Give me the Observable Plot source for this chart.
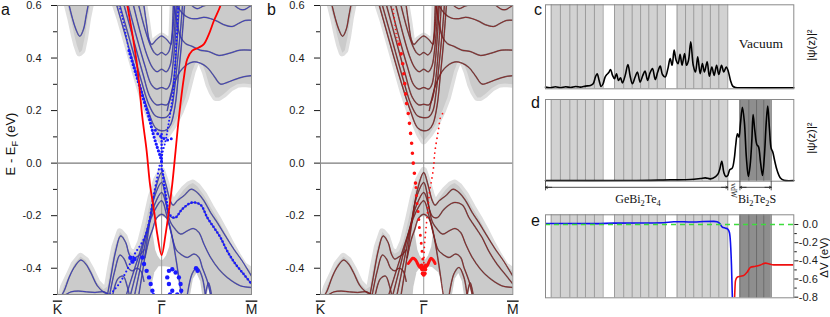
<!DOCTYPE html>
<html>
<head>
<meta charset="utf-8">
<script src="https://cdn.jsdelivr.net/npm/d3@7"></script>
<script src="https://cdn.jsdelivr.net/npm/@observablehq/plot@0.6"></script>
<style>
  html, body { margin: 0; padding: 0; background: #fff; }
  #fig { position: relative; width: 830px; height: 317px; overflow: hidden; background: #fff; }
  #fig svg { position: absolute; }
</style>
</head>
<body>
<div id="fig"></div>
<script>
// ================= DATA =================
// ---- panels a, b : k along K̄–Γ̄–M̄ (Γ̄ = 0), energy E - E_F (eV)
const kTicks = [-1, 0, 0.863];
const kLabels = ["K", "Γ", "M"];
const eMajor = [-0.4, -0.2, 0, 0.2, 0.4, 0.6];
const eMinor = [-0.5, -0.3, -0.1, 0.1, 0.3, 0.5];

// projected bulk bands (grey regions), polygons of [k, E]
const bulkCondK = [[-0.904,0.66],[-0.904,0.6],[-0.872,0.55],[-0.84,0.49],[-0.815,0.45],[-0.789,0.42],[-0.764,0.43],[-0.738,0.48],[-0.712,0.55],[-0.687,0.6],[-0.687,0.66]];
const bulkCond = [[-0.47,0.66],[-0.441,0.6],[-0.393,0.542],[-0.329,0.453],[-0.265,0.364],[-0.201,0.275],[-0.137,0.2],[-0.073,0.142],[-0.04,0.11],[0,0.085],[0.054,0.11],[0.118,0.148],[0.182,0.2],[0.23,0.25],[0.262,0.3],[0.294,0.35],[0.326,0.383],[0.358,0.392],[0.39,0.377],[0.422,0.345],[0.454,0.3],[0.486,0.27],[0.518,0.25],[0.55,0.25],[0.597,0.263],[0.661,0.286],[0.725,0.3],[0.789,0.303],[0.863,0.3],[0.95,0.3],[0.95,0.66],[0.115,0.66],[0.11,0.6],[0.1,0.49],[0.09,0.45],[0.05,0.47],[0,0.484],[-0.05,0.47],[-0.095,0.45],[-0.12,0.47],[-0.145,0.54],[-0.17,0.6],[-0.175,0.66]];
const bulkVal = [[-0.975,-0.56],[-0.965,-0.503],[-0.94,-0.47],[-0.88,-0.42],[-0.84,-0.385],[-0.78,-0.355],[-0.73,-0.37],[-0.68,-0.405],[-0.62,-0.455],[-0.56,-0.48],[-0.52,-0.47],[-0.49,-0.4],[-0.45,-0.32],[-0.4,-0.262],[-0.36,-0.28],[-0.32,-0.33],[-0.28,-0.345],[-0.24,-0.335],[-0.2,-0.3],[-0.15,-0.22],[-0.1,-0.13],[-0.05,-0.065],[0,-0.028],[0.038,-0.074],[0.07,-0.118],[0.1,-0.15],[0.118,-0.155],[0.166,-0.125],[0.214,-0.1],[0.262,-0.082],[0.3,-0.076],[0.342,-0.088],[0.406,-0.122],[0.47,-0.168],[0.534,-0.21],[0.597,-0.255],[0.661,-0.305],[0.725,-0.35],[0.789,-0.39],[0.863,-0.41],[0.95,-0.41],[0.95,-0.56]];
const bulkRegions = [bulkCondK, bulkCond, bulkVal];

// gaps inside the projected valence bands
const gapTear = [[0,-0.2],[0.04,-0.21],[0.07,-0.228],[0.088,-0.27],[0.072,-0.318],[0.042,-0.352],[0.012,-0.368],[-0.012,-0.368],[-0.04,-0.352],[-0.062,-0.33],[-0.086,-0.27],[-0.072,-0.225],[-0.04,-0.208]];
const gapLow = [[-0.12,-0.56],[-0.1,-0.47],[-0.07,-0.415],[-0.03,-0.392],[0.03,-0.392],[0.08,-0.395],[0.14,-0.415],[0.18,-0.455],[0.2,-0.503],[0.205,-0.56]];
const gapR1 = [[0.27,-0.56],[0.272,-0.503],[0.3,-0.44],[0.335,-0.418],[0.37,-0.45],[0.39,-0.503],[0.392,-0.56]];
const gapR2 = [[0.43,-0.56],[0.432,-0.503],[0.45,-0.468],[0.468,-0.503],[0.47,-0.56]];
const gapRegions = [gapTear, gapLow, gapR1, gapR2];

// slab sub-bands [k, E]
const bandKU = [[-0.888,0.6],[-0.856,0.55],[-0.824,0.51],[-0.786,0.483],[-0.75,0.51],[-0.725,0.56],[-0.706,0.6]];
const bandCR0 = [[0.7,0.6],[0.757,0.585],[0.8,0.585],[0.84,0.595],[0.863,0.6]];
const bandCR0b = [[0.29,0.6],[0.34,0.588],[0.4,0.598],[0.42,0.6]];
const bandCR1 = [[0.15,0.6],[0.2,0.57],[0.27,0.552],[0.34,0.55],[0.406,0.555],[0.47,0.55],[0.534,0.54],[0.597,0.527],[0.677,0.52],[0.74,0.532],[0.8,0.543],[0.863,0.544]];
const bandCR2 = [[0.118,0.6],[0.15,0.53],[0.182,0.48],[0.23,0.455],[0.29,0.445],[0.37,0.43],[0.45,0.425],[0.55,0.41],[0.65,0.418],[0.75,0.43],[0.863,0.43]];
const bandCR3 = [[0.054,0.2],[0.118,0.3],[0.2,0.36],[0.3,0.385],[0.374,0.38],[0.438,0.364],[0.502,0.332],[0.565,0.301],[0.629,0.307],[0.693,0.317],[0.789,0.329],[0.863,0.333]];
const bandS1 = [[-0.17,0.6],[-0.145,0.53],[-0.12,0.47],[-0.095,0.452],[-0.05,0.47],[0,0.484],[0.05,0.47],[0.09,0.452],[0.1,0.48],[0.105,0.53],[0.112,0.6]];
const bandS2 = [[-0.22,0.6],[-0.16,0.51],[-0.11,0.45],[-0.07,0.42],[-0.04,0.412],[0,0.421],[0.04,0.412],[0.07,0.425],[0.095,0.47],[0.115,0.54],[0.125,0.6]];
const bandS3 = [[-0.27,0.6],[-0.2,0.49],[-0.14,0.41],[-0.09,0.365],[-0.045,0.348],[0,0.357],[0.045,0.348],[0.08,0.37],[0.105,0.43],[0.125,0.52],[0.14,0.6]];
const bandS4 = [[-0.32,0.6],[-0.24,0.48],[-0.16,0.37],[-0.1,0.3],[-0.05,0.282],[0,0.288],[0.05,0.282],[0.08,0.3],[0.11,0.38],[0.135,0.5],[0.15,0.6]];
const bandS5 = [[-0.36,0.6],[-0.27,0.47],[-0.18,0.34],[-0.11,0.25],[-0.05,0.222],[0,0.224],[0.05,0.222],[0.08,0.24],[0.11,0.3],[0.14,0.42],[0.17,0.6]];
const bandS6 = [[-0.4,0.6],[-0.3,0.46],[-0.2,0.32],[-0.12,0.22],[-0.06,0.18],[0,0.173],[0.05,0.176],[0.09,0.2],[0.12,0.27],[0.15,0.38],[0.18,0.5],[0.2,0.6]];
const bandS7 = [[-0.43,0.6],[-0.33,0.46],[-0.22,0.31],[-0.13,0.2],[-0.06,0.135],[0,0.123],[0.05,0.128],[0.09,0.15],[0.13,0.22],[0.16,0.33],[0.19,0.45],[0.22,0.6]];
const bandL1 = [[-0.22,-0.503],[-0.17,-0.38],[-0.12,-0.24],[-0.06,-0.1],[0,-0.036],[0.04,-0.08],[0.08,-0.14],[0.11,-0.16],[0.15,-0.143],[0.214,-0.124],[0.284,-0.099],[0.342,-0.112],[0.406,-0.143],[0.47,-0.188],[0.534,-0.226],[0.613,-0.277],[0.693,-0.327],[0.773,-0.372],[0.863,-0.43]];
const bandL2 = [[-0.26,-0.503],[-0.19,-0.37],[-0.13,-0.25],[-0.07,-0.13],[0,-0.074],[0.03,-0.11],[0.054,-0.175],[0.09,-0.205],[0.134,-0.207],[0.198,-0.175],[0.294,-0.15],[0.374,-0.159],[0.438,-0.207],[0.502,-0.245],[0.565,-0.283],[0.629,-0.334],[0.709,-0.384],[0.789,-0.423],[0.863,-0.46]];
const bandL3 = [[-0.3,-0.503],[-0.22,-0.38],[-0.15,-0.27],[-0.07,-0.16],[0,-0.112],[0.04,-0.15],[0.08,-0.22],[0.118,-0.245],[0.182,-0.27],[0.246,-0.258],[0.304,-0.249],[0.358,-0.264],[0.406,-0.308],[0.47,-0.359],[0.55,-0.404],[0.629,-0.435],[0.757,-0.467],[0.863,-0.473]];
const bandL4 = [[-0.34,-0.503],[-0.25,-0.39],[-0.16,-0.28],[-0.08,-0.19],[0,-0.143],[0.05,-0.2],[0.1,-0.28],[0.14,-0.33],[0.182,-0.346],[0.246,-0.359],[0.31,-0.346],[0.358,-0.359],[0.39,-0.397],[0.438,-0.448],[0.47,-0.503]];
const bandL5 = [[-0.16,-0.36],[-0.12,-0.29],[-0.085,-0.25],[-0.05,-0.21],[0,-0.195],[0.05,-0.21],[0.085,-0.25],[0.11,-0.3],[0.14,-0.37],[0.17,-0.45],[0.19,-0.503]];
const bandVL0 = [[-0.93,-0.503],[-0.87,-0.49],[-0.8,-0.487],[-0.72,-0.49],[-0.64,-0.492],[-0.55,-0.49],[-0.5,-0.503]];
const bandVL1 = [[-0.96,-0.503],[-0.936,-0.486],[-0.888,-0.435],[-0.84,-0.397],[-0.776,-0.369],[-0.728,-0.384],[-0.681,-0.416],[-0.617,-0.467],[-0.553,-0.492],[-0.489,-0.503]];
const bandVL2 = [[-0.521,-0.503],[-0.489,-0.435],[-0.441,-0.334],[-0.393,-0.277],[-0.345,-0.302],[-0.313,-0.346],[-0.281,-0.365],[-0.249,-0.359],[-0.201,-0.346],[-0.17,-0.33]];
const bandVL3 = [[-0.5,-0.503],[-0.45,-0.41],[-0.4,-0.35],[-0.36,-0.365],[-0.32,-0.4],[-0.28,-0.41],[-0.24,-0.4],[-0.2,-0.41],[-0.17,-0.45]];
const bandVL4 = [[-0.47,-0.503],[-0.42,-0.44],[-0.37,-0.43],[-0.33,-0.47],[-0.31,-0.503]];
const bandVR5 = [[0.246,-0.503],[0.294,-0.42],[0.342,-0.397],[0.39,-0.435],[0.42,-0.503]];
const bandVR6 = [[0.42,-0.503],[0.45,-0.455],[0.48,-0.503]];
const subbands = [bandKU, bandCR0, bandCR0b, bandCR1, bandCR2, bandCR3, bandS1, bandS2, bandS3, bandS4, bandS5, bandS6, bandS7,
  bandL1, bandL2, bandL3, bandL4, bandL5, bandVL0, bandVL1, bandVL2, bandVL3, bandVL4, bandVR5, bandVR6];

// panel a : red parabolic band and blue surface-weighted states
const redBandA = [[-0.345,0.64],[-0.329,0.6],[-0.281,0.491],[-0.233,0.364],[-0.185,0.174],[-0.144,0.047],[-0.112,-0.08],[-0.073,-0.181],[-0.042,-0.27],[0,-0.35],[0.038,-0.27],[0.07,-0.181],[0.102,-0.08],[0.134,0.047],[0.166,0.174],[0.214,0.326],[0.246,0.396],[0.294,0.428],[0.358,0.44],[0.406,0.453],[0.454,0.491],[0.502,0.542],[0.565,0.6],[0.585,0.64]];
const ssA_top = [[-0.409,0.6],[-0.377,0.555],[-0.345,0.491],[-0.313,0.428]];
const ssA_left = [[-0.313,0.428],[-0.265,0.364],[-0.217,0.301],[-0.169,0.237],[-0.121,0.174],[-0.08,0.11],[-0.042,0.06],[-0.01,0.022],[0,0.005]];
const ssA_right = [[0,0.005],[0.006,0.034],[0.038,0.085],[0.061,0.136],[0.086,0.199],[0.109,0.263],[0.125,0.339],[0.137,0.428],[0.15,0.516],[0.16,0.6]];
const ssA_gamma = [[0,0.11],[0,-0.03]];
const ssA_arc = [[-0.06,0.125],[-0.03,0.108],[0,0.1],[0.03,0.092],[0.06,0.088],[0.09,0.092],[0.115,0.105]];
const ssA_lowLeft = [[-0.02,-0.01],[-0.05,-0.07],[-0.08,-0.13],[-0.105,-0.19],[-0.13,-0.24],[-0.16,-0.28],[-0.2,-0.31],[-0.25,-0.34],[-0.3,-0.38],[-0.35,-0.42],[-0.4,-0.455],[-0.45,-0.48],[-0.5,-0.503]];
const ssA_lowRight = [[0.01,-0.03],[0.02,-0.07],[0.035,-0.11],[0.05,-0.15],[0.07,-0.19],[0.1,-0.205],[0.134,-0.207],[0.198,-0.175],[0.294,-0.15],[0.374,-0.159],[0.438,-0.207],[0.502,-0.245],[0.565,-0.283],[0.629,-0.334],[0.709,-0.384],[0.789,-0.423],[0.863,-0.46]];
const clusterA = [[-0.185,-0.359],[-0.169,-0.384],[-0.144,-0.41],[-0.121,-0.435],[-0.105,-0.46],[-0.089,-0.486],[-0.08,-0.503],[-0.3,-0.36],[-0.28,-0.375],[-0.26,-0.365],
  [0.07,-0.41],[0.102,-0.404],[0.134,-0.416],[0.166,-0.435],[0.182,-0.46],[0.188,-0.486],[0.054,-0.435],[0.07,-0.46],[0.102,-0.486],[0.08,-0.5],[0.15,-0.5],[0.33,-0.4],[0.345,-0.41]];

// panel b : red surface-weighted states
const ssB_top = [[-0.3,0.6],[-0.285,0.55],[-0.27,0.5],[-0.255,0.47],[-0.237,0.453]];
const ssB_left = [[-0.237,0.453],[-0.221,0.421],[-0.205,0.383],[-0.188,0.32],[-0.172,0.25],[-0.162,0.214],[-0.146,0.18],[-0.136,0.142],[-0.123,0.098],[-0.114,0.062],[-0.107,0.024],[-0.097,-0.016],[-0.084,-0.061],[-0.075,-0.093]];
const ssB_low = [[-0.075,-0.093],[-0.065,-0.15],[-0.05,-0.2],[-0.042,-0.245],[-0.03,-0.283],[-0.02,-0.321],[-0.01,-0.36],[0,-0.397]];
const ssB_right = [[0,-0.397],[0.006,-0.321],[0.013,-0.283],[0.023,-0.245],[0.032,-0.207],[0.045,-0.156],[0.058,-0.105],[0.078,-0.061],[0.097,-0.01],[0.104,0.028],[0.114,0.06],[0.13,0.098],[0.146,0.136],[0.162,0.174],[0.185,0.19]];
const ssB_w = [[-0.149,-0.382],[-0.13,-0.372],[-0.107,-0.362],[-0.084,-0.366],[-0.065,-0.378],[-0.042,-0.395],[-0.026,-0.4],[0.006,-0.4],[0.032,-0.391],[0.055,-0.372],[0.071,-0.362],[0.097,-0.372],[0.11,-0.382]];
const clusterB = [[0,-0.4],[-0.015,-0.405],[0.015,-0.405],[-0.01,-0.42],[0.01,-0.42],[0,-0.425],[-0.02,-0.39],[0.02,-0.39]];

// ---- panels c, d, e : z across the slab (0–100 arb.)
const gePlanes = [2.3,6.0,9.8,12.8,16.1,19.7,23.2, 27.8,31.5,34.9,38.3,41.6,45.0,48.3, 53.0,56.4,59.7,63.1,66.4,69.8,73.4];
const geBlocks = [[2.3,23.2],[27.8,48.3],[53.0,73.4]];
const btsBlock = [[78.3,90.9]];
const btsPlanes = [78.3,81.9,85.0,87.9,90.9];

const psiC = [[0,0.02],[2.0,0.012],[4.0,0.024],[6.0,0.012],[8.1,0.024],[10.1,0.016],[12.1,0.028],[14.1,0.02],[16.1,0.032],[18.1,0.04],[19.2,0.06],[20.1,0.14],[20.8,0.18],[21.6,0.10],[22.4,0.028],[23.2,0.06],[24.0,0.14],[24.7,0.17],[25.4,0.19],[26.2,0.23],[27.0,0.16],[27.8,0.12],[28.6,0.18],[29.4,0.10],[30.2,0.13],[31.0,0.07],[32.1,0.16],[33.2,0.29],[34.1,0.15],[35.0,0.06],[36.1,0.14],[37.0,0.20],[38.1,0.08],[39.2,0.16],[40.1,0.21],[41.1,0.10],[42.1,0.19],[43.1,0.24],[44.2,0.11],[45.2,0.20],[46.2,0.27],[47.1,0.17],[48.2,0.14],[49.3,0.24],[50.2,0.36],[51.0,0.28],[51.8,0.46],[52.6,0.34],[53.4,0.30],[54.2,0.41],[55.0,0.28],[56.0,0.42],[56.8,0.28],[57.6,0.34],[58.5,0.56],[59.5,0.28],[60.4,0.20],[61.3,0.38],[62.3,0.18],[63.2,0.30],[64.0,0.20],[65.1,0.32],[66.0,0.15],[67.0,0.26],[67.9,0.16],[68.9,0.28],[69.8,0.17],[70.9,0.28],[71.8,0.20],[72.8,0.26],[73.6,0.21],[74.5,0.10],[75.4,0.032],[76.5,0.016],[79.9,0.012],[100,0.012]];
const psiD = [[0,0.008],[34.2,0.008],[50.3,0.016],[58.4,0.02],[62.4,0.033],[64.4,0.041],[66.4,0.029],[68.5,0.057],[69.5,0.09],[70.2,0.15],[71.0,0.245],[71.8,0.11],[72.6,0.057],[73.4,0.07],[74.2,0.14],[75.2,0.16],[76.0,0.27],[76.6,0.44],[77.3,0.58],[77.9,0.54],[78.5,0.70],[79.3,0.906],[80.1,0.72],[80.9,0.29],[81.7,0.057],[82.4,0.19],[83.1,0.50],[83.6,0.816],[84.3,0.62],[85.1,0.45],[85.8,0.42],[86.6,0.23],[87.4,0.07],[88.2,0.33],[88.9,0.72],[89.5,0.92],[90.2,0.64],[90.9,0.40],[91.5,0.36],[92.3,0.25],[93.3,0.13],[94.6,0.04],[96.0,0.012],[100,0.008]];
const dVGe = [[0,0.012],[7.4,0.012],[20.8,0.01],[27.5,0.015],[38.3,0.016],[47.7,0.02],[51.7,0.03],[55.7,0.03],[59.7,0.027],[63.8,0.033],[67.8,0.035],[69.1,0.03],[70.2,0.01],[71.1,-0.025],[72.5,-0.04],[73.4,-0.05],[74.1,-0.09],[74.5,-0.2],[74.9,-0.45],[75.3,-0.85]];
const dVBTS = [[76.1,-0.85],[76.5,-0.62],[77.2,-0.58],[78.5,-0.57],[79.9,-0.56],[81.2,-0.525],[82.6,-0.47],[84.6,-0.46],[86.6,-0.445],[88.6,-0.425],[89.9,-0.433],[91.9,-0.444],[96,-0.444],[100,-0.444]];
const dVTicks = [0, -0.2, -0.4, -0.6, -0.8];
const dVMinor = [-0.1, -0.3, -0.5, -0.7];
const dSpans = [{z1: 0, z2: 73.4, dashed: true}, {z1: 78.3, z2: 90.9, dashed: false}];
const dBounds = [0, 73.4, 78.3, 90.9];

// ================= DRAWING =================
const sans = "'Liberation Sans', Arial, Helvetica, sans-serif";
const serif = "'Liberation Serif', 'Times New Roman', serif";
const fig = document.getElementById("fig");
const X = d => d[0], Y = d => d[1];
const baseStyle = {fontFamily: sans, fontSize: "11px", background: "transparent", color: "#1a1a1a", overflow: "visible"};
function put(svg, left, top) { svg.style.left = left + "px"; svg.style.top = top + "px"; fig.appendChild(svg); }
function dotted(data, color, width, gap) {
  return Plot.line(data, {x: X, y: Y, stroke: color, strokeWidth: width, strokeDasharray: `0,${gap}`, strokeLinecap: "round", curve: "catmull-rom", clip: true});
}

function bandPanel({marginLeft, marginRight, lineColor, underColor, extra}) {
  const marks = [];
  for (const p of bulkRegions) marks.push(Plot.line(p, {x: X, y: Y, fill: "#dedede", stroke: "#dedede", strokeWidth: 7, clip: true}));
  for (const p of bulkRegions) marks.push(Plot.line(p, {x: X, y: Y, fill: "#cbcbcb", stroke: "none", clip: true}));
  for (const p of gapRegions) marks.push(Plot.line(p, {x: X, y: Y, fill: "#ffffff", stroke: "none", clip: true}));
  marks.push(Plot.ruleY([0], {stroke: "#7a7a7a", strokeWidth: 1.2}));
  marks.push(Plot.ruleX([0], {stroke: "#9a9a9a", strokeWidth: 1}));
  for (const b of subbands) marks.push(Plot.line(b, {x: X, y: Y, stroke: underColor, strokeWidth: 1.5, strokeOpacity: 0.5, curve: "catmull-rom", clip: true}));
  for (const b of subbands) marks.push(Plot.line(b, {x: X, y: Y, stroke: lineColor, strokeWidth: 0.85, curve: "catmull-rom", clip: true}));
  marks.push(...extra);
  marks.push(Plot.frame({stroke: "#8a8a8a"}));
  marks.push(Plot.axisY({ticks: eMajor, tickSize: 6, tickPadding: 10, tickFormat: d => d.toFixed(1), label: null}));
  marks.push(Plot.axisY({ticks: eMinor, tickSize: 4, tickFormat: () => "", label: null}));
  marks.push(Plot.axisX({ticks: kTicks, tickSize: 0, tickPadding: 10, tickFormat: d => kLabels[kTicks.indexOf(d)], label: null}));
  const svg = Plot.plot({width: 255, height: 317, marginLeft, marginRight, marginTop: 5, marginBottom: 23,
    x: {domain: [-1, 0.863]}, y: {domain: [-0.5, 0.6]}, style: baseStyle, marks});
  d3.select(svg).selectAll('g[aria-label^="x-axis tick label"] text').style("text-decoration", "overline").style("font-size", "14px");
  return svg;
}

const blueDot = "#1a1aff", redDot = "#ff1010";
const extraA = [
  dotted(ssA_top, blueDot, 1.8, 3.5),
  dotted(ssA_left, blueDot, 3.2, 3.6),
  dotted(ssA_right, blueDot, 2, 3.5),
  dotted(ssA_gamma, blueDot, 2.6, 3.5),
  dotted(ssA_arc, blueDot, 3, 4),
  dotted(ssA_lowLeft, blueDot, 2.2, 4),
  dotted(ssA_lowRight, blueDot, 2.6, 3.5),
  Plot.dot(clusterA, {x: X, y: Y, r: 2.2, fill: blueDot, stroke: "none", clip: true}),
  Plot.line(redBandA, {x: X, y: Y, stroke: "#ff0000", strokeWidth: 1.8, curve: "catmull-rom", clip: true})
];
const extraB = [
  dotted(ssB_top, redDot, 1.6, 4),
  dotted(ssB_left, redDot, 3.6, 10),
  dotted(ssB_low, redDot, 3, 8),
  dotted(ssB_right, redDot, 1.8, 5),
  Plot.line(ssB_w, {x: X, y: Y, stroke: redDot, strokeWidth: 3, curve: "catmull-rom", clip: true}),
  Plot.dot(clusterB, {x: X, y: Y, r: 2, fill: redDot, stroke: "none", clip: true})
];

put(bandPanel({marginLeft: 57, marginRight: 4, lineColor: "#3030c8", underColor: "#3a3a3a", extra: extraA}), 0, 0);
put(bandPanel({marginLeft: 58, marginRight: 4.7, lineColor: "#8b1a1a", underColor: "#202020", extra: extraB}), 262, 0);

// ---- layered slab panels
function slabMarks(withBTS) {
  const m = [Plot.rect(geBlocks, {x1: X, x2: Y, fill: "#d2d2d2"})];
  if (withBTS) m.push(Plot.rect(btsBlock, {x1: X, x2: Y, fill: "#8e8e8e"}));
  m.push(Plot.ruleX(gePlanes, {stroke: "#9c9c9c", strokeWidth: 1}));
  if (withBTS) m.push(Plot.ruleX(btsPlanes, {stroke: "#6c6c6c", strokeWidth: 1}));
  return m;
}
const zDomain = [0, 100];

// c
put(Plot.plot({width: 300, height: 95, marginLeft: 15, marginRight: 36.7, marginTop: 4.3, marginBottom: 6.7,
  x: {domain: zDomain, axis: null}, y: {domain: [0, 1], axis: null}, style: baseStyle,
  marks: [
    ...slabMarks(false),
    Plot.line(psiC, {x: X, y: Y, stroke: "#000", strokeWidth: 1.6, curve: "catmull-rom"}),
    Plot.text(["Vacuum"], {x: () => (geBlocks[2][1] + zDomain[1]) / 2, y: () => 0.54, fontFamily: serif, fontSize: 13.5, fill: "#111"}),
    Plot.frame({stroke: "#8a8a8a"})
  ]}), 530, 0);

// d
put(Plot.plot({width: 300, height: 115, marginLeft: 15, marginRight: 36.7, marginTop: 4, marginBottom: 29.3,
  x: {domain: zDomain, axis: null}, y: {domain: [0, 1], axis: null}, style: baseStyle,
  marks: [
    ...slabMarks(true),
    Plot.line(psiD, {x: X, y: Y, stroke: "#000", strokeWidth: 1.6, curve: "catmull-rom"}),
    Plot.frame({stroke: "#8a8a8a"}),
    Plot.ruleX(dBounds, {x: d => d, y1: 0, y2: -0.118, stroke: "#333", strokeWidth: 0.8}),
    Plot.link(dSpans, {x1: "z1", x2: "z2", y1: -0.075, y2: -0.075, stroke: "#222", strokeWidth: 0.8,
      strokeDasharray: d => d.dashed ? "2,1.6" : null}),
    Plot.arrow(dSpans, {x1: d => d.z1 + 2.5, x2: "z1", y1: -0.075, y2: -0.075, headLength: 5, stroke: "#222", strokeWidth: 0.8}),
    Plot.arrow(dSpans, {x1: d => d.z2 - 2.5, x2: "z2", y1: -0.075, y2: -0.075, headLength: 5, stroke: "#222", strokeWidth: 0.8}),
    Plot.text(["vdW"], {x: () => (geBlocks[2][1] + btsBlock[0][0]) / 2, y: () => -0.115, rotate: 90, fontFamily: serif, fontSize: 7.5, fill: "#111"})
  ]}), 530, 95);

// e
put(Plot.plot({width: 300, height: 112, marginLeft: 15, marginRight: 36.7, marginTop: 9.3, marginBottom: 19.7,
  x: {domain: zDomain, axis: null}, y: {domain: [-0.807, 0.107]}, style: baseStyle,
  marks: [
    ...slabMarks(true),
    Plot.line(dVGe, {x: X, y: Y, stroke: "#1010f0", strokeWidth: 1.6, curve: "monotone-x", clip: true}),
    Plot.line(dVBTS, {x: X, y: Y, stroke: "#ee1010", strokeWidth: 1.6, curve: "monotone-x", clip: true}),
    Plot.ruleY([0], {stroke: "#3ddc3d", strokeWidth: 1.5, strokeDasharray: "5,4"}),
    Plot.frame({stroke: "#8a8a8a"}),
    Plot.axisY({anchor: "right", ticks: dVTicks, tickSize: 4, tickFormat: () => "", label: null}),
    Plot.axisY({anchor: "right", ticks: dVMinor, tickSize: 2.5, tickFormat: () => "", label: null}),
    Plot.text(dVTicks, {y: d => d, text: d => d.toFixed(1), frameAnchor: "right", dx: 24, textAnchor: "end", fontSize: 11, fill: "#1a1a1a"})
  ]}), 530, 205);

// ---- text labels (overlay)
const ov = d3.create("svg").attr("width", 830).attr("height", 317).style("left", "0px").style("top", "0px").style("pointer-events", "none");
function txt(x, y, opts = {}) {
  const t = ov.append("text").attr("x", x).attr("y", y)
    .attr("font-family", opts.family || sans).attr("font-size", opts.size || 12)
    .attr("text-anchor", opts.anchor || "start").attr("fill", "#111");
  if (opts.rotate) t.attr("transform", `rotate(${opts.rotate},${x},${y})`);
  return t;
}
txt(1, 14.8, {size: 16}).text("a");
txt(267, 14.8, {size: 16}).text("b");
txt(534, 14.8, {size: 16}).text("c");
txt(531, 108, {size: 16}).text("d");
txt(531, 226, {size: 16}).text("e");
const yl = txt(14.5, 144, {size: 13, anchor: "middle", rotate: -90});
yl.append("tspan").text("E - E");
yl.append("tspan").attr("dy", 3).attr("font-size", "72%").text("F");
yl.append("tspan").attr("dy", -3).text(" (eV)");
txt(815, 45, {size: 11.5, anchor: "middle", rotate: -90}).text("|ψ(z)|²");
txt(815, 138, {size: 11.5, anchor: "middle", rotate: -90}).text("|ψ(z)|²");
txt(828, 257.5, {size: 11.5, anchor: "middle", rotate: -90}).text("ΔV (eV)");
const g1 = txt(638, 203, {size: 12, anchor: "middle", family: serif});
g1.append("tspan").text("GeBi"); g1.append("tspan").attr("dy", 2.5).attr("font-size", "70%").text("2");
g1.append("tspan").attr("dy", -2.5).text("Te"); g1.append("tspan").attr("dy", 2.5).attr("font-size", "70%").text("4");
const g2 = txt(757, 203, {size: 12, anchor: "middle", family: serif});
g2.append("tspan").text("Bi"); g2.append("tspan").attr("dy", 2.5).attr("font-size", "70%").text("2");
g2.append("tspan").attr("dy", -2.5).text("Te"); g2.append("tspan").attr("dy", 2.5).attr("font-size", "70%").text("2");
g2.append("tspan").attr("dy", -2.5).text("S");
fig.appendChild(ov.node());
</script>
</body>
</html>
